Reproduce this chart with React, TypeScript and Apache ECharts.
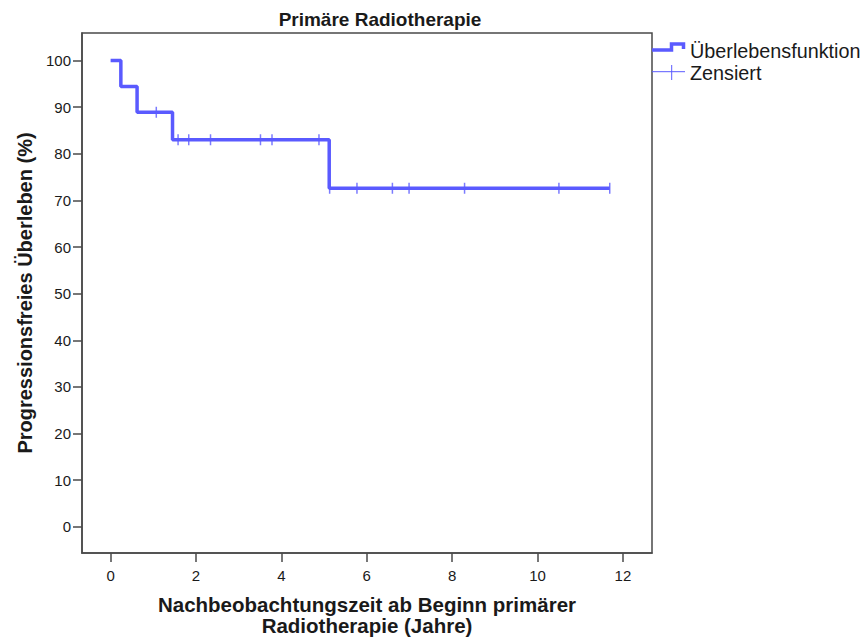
import React, { useEffect, useRef } from "react";
import * as echarts from "echarts";

// Kaplan-Meier step curve (time in years, survival in %)
const stepTimes = [0, 0.24, 0.62, 1.45, 5.12, 11.69];
const stepSurvival = [100, 94.4, 88.9, 83.0, 72.6, 72.6];

// Censored observations
const censorTimes = [1.07, 1.58, 1.83, 2.34, 3.51, 3.78, 4.88, 5.13, 5.77, 6.6, 6.99, 8.29, 10.5, 11.69];
const censorSurvival = [88.9, 83.0, 83.0, 83.0, 83.0, 83.0, 83.0, 72.6, 72.6, 72.6, 72.6, 72.6, 72.6, 72.6];

const xTicks = [0, 2, 4, 6, 8, 10, 12];
const yTicks = [0, 10, 20, 30, 40, 50, 60, 70, 80, 90, 100];

const titleText = "Primäre Radiotherapie";
const xTitle = "Nachbeobachtungszeit ab Beginn primärer\nRadiotherapie (Jahre)";
const yTitle = "Progressionsfreies Überleben (%)";
const legendNames = ["Überlebensfunktion", "Zensiert"];

const FONT = "'Liberation Sans', Arial, sans-serif";
const BLUE = "#5a5aff";
const AXIS = "#4a4a4a";
const TEXT = "#1a1a1a";

export default function App() {
  const ref = useRef<HTMLDivElement>(null);
  useEffect(() => {
    const chart = echarts.init(ref.current!, null, { renderer: "svg" });
    chart.setOption({
      animation: false,
      backgroundColor: "#ffffff",
      textStyle: { fontFamily: FONT },
      grid: {
        left: 82,
        right: 216,
        top: 33,
        bottom: 87,
        show: true,
        borderColor: AXIS,
        borderWidth: 1.5,
        backgroundColor: "transparent",
      },
      xAxis: {
        type: "value",
        min: -0.67,
        max: 12.68,
        name: xTitle,
        nameLocation: "middle",
        nameGap: 41,
        nameTextStyle: { fontSize: 20.5, fontWeight: "bold", color: TEXT, fontFamily: FONT, lineHeight: 21 },
        axisLine: { show: true, onZero: false, lineStyle: { color: AXIS, width: 1.5 } },
        axisTick: { show: true, length: 9, customValues: xTicks, lineStyle: { color: AXIS, width: 1.5 } },
        axisLabel: { customValues: xTicks, fontSize: 15, color: TEXT, margin: 15, fontFamily: FONT },
        splitLine: { show: false },
      },
      yAxis: {
        type: "value",
        min: -5.63,
        max: 105.9,
        name: yTitle,
        nameLocation: "middle",
        nameGap: 45,
        nameTextStyle: { fontSize: 20, fontWeight: "bold", color: TEXT, fontFamily: FONT },
        axisLine: { show: true, onZero: false, lineStyle: { color: AXIS, width: 1.5 } },
        axisTick: { show: true, length: 9, customValues: yTicks, lineStyle: { color: AXIS, width: 1.5 } },
        axisLabel: { customValues: yTicks, fontSize: 15, color: TEXT, margin: 11, fontFamily: FONT },
        splitLine: { show: false },
      },
      series: [
        {
          name: legendNames[0],
          type: "line",
          step: "end",
          showSymbol: false,
          data: stepTimes.map((t, i) => [t, stepSurvival[i]]),
          lineStyle: { color: BLUE, width: 3.5 },
          itemStyle: { color: BLUE },
          z: 2,
        },
        {
          name: legendNames[1],
          type: "scatter",
          symbol: "rect",
          symbolSize: [1.5, 11],
          data: censorTimes.map((t, i) => [t, censorSurvival[i]]),
          itemStyle: { color: BLUE },
          z: 3,
        },
      ],
      graphic: [
        {
          type: "text",
          x: 380,
          y: 19.5,
          style: {
            text: titleText,
            fontSize: 19,
            fontWeight: "bold",
            fontFamily: FONT,
            fill: TEXT,
            align: "center",
            verticalAlign: "middle",
          },
        },
        {
          type: "polyline",
          shape: { points: [[652, 50], [671.5, 50], [671.5, 44], [683.5, 44], [683.5, 49]] },
          style: { stroke: BLUE, lineWidth: 3.5, fill: null },
        },
        {
          type: "text",
          x: 690,
          y: 51,
          style: { text: legendNames[0], fontSize: 19.8, fontFamily: FONT, fill: TEXT, align: "left", verticalAlign: "middle" },
        },
        {
          type: "line",
          shape: { x1: 652, y1: 71.7, x2: 685, y2: 71.7 },
          style: { stroke: BLUE, lineWidth: 1 },
        },
        {
          type: "line",
          shape: { x1: 671.7, y1: 65, x2: 671.7, y2: 80 },
          style: { stroke: BLUE, lineWidth: 1 },
        },
        {
          type: "text",
          x: 690,
          y: 73,
          style: { text: legendNames[1], fontSize: 19.8, fontFamily: FONT, fill: TEXT, align: "left", verticalAlign: "middle" },
        },
      ],
    });
    return () => chart.dispose();
  }, []);
  return <div ref={ref} style={{ position: "absolute", left: 0, top: 0, width: 868, height: 641 }} />;
}
